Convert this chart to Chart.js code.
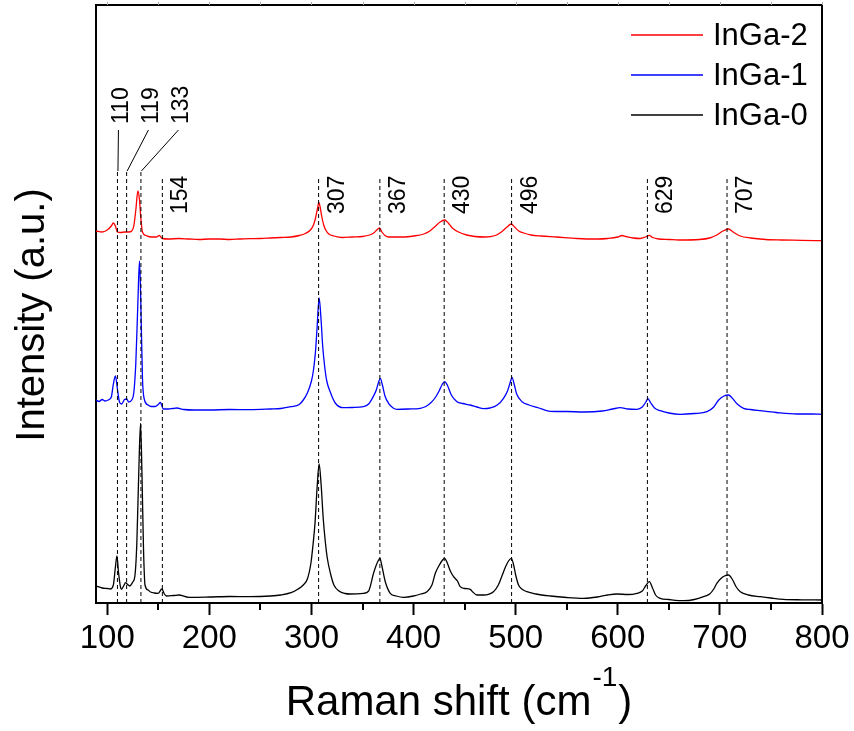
<!DOCTYPE html>
<html>
<head>
<meta charset="utf-8">
<title>Raman InGa</title>
<script src="https://cdn.jsdelivr.net/npm/chart.js@4.4.1/dist/chart.umd.min.js"></script>
<style>
    body { margin: 0; background: #fff; }
    #wrap { width: 854px; height: 731px; }
</style>
</head>
<body>
<div id="wrap"><canvas id="raman" width="854" height="731"></canvas></div>
<script>
const inga2Points = [
    [89,372],[95,371],[100,373],[104,377],[106,380],[108,377],[110,371],[113,370.5],[117,371],[121,371],
    [124,372],[126,377],[128,393],[130,412],[131.5,404],[133,384],[134.5,371],[138,367.5],[143,366],[148,366],
    [151,367.5],[154,364.5],[160,364],[170,364.5],[180,364],[190,363.5],[200,364],[210,364],[220,363.5],[230,364],
    [240,364.3],[250,364.5],[260,365],[270,365.5],[280,366],[288,367.5],[294,369.5],[299,373],[302,378],[304,385],
    [306,395],[307.2,400.5],[308.5,396],[310,387],[312,378],[314,373],[317,369],[322,367],[330,365.5],[340,366],
    [350,366.5],[357,368],[361,370],[364,373],[366.7,375],[369,371],[372,367.5],[376,366],[380,366],[390,366],
    [400,367],[410,369],[416,372],[421,376.5],[426,381],[430.4,383],[434,380],[438,375],[444,371],[452,368],
    [460,366.5],[470,366],[480,367.5],[486,371],[491,375.5],[495.7,379],[499,376],[503,372],[508,370],[515,368],
    [525,367],[540,366],[560,364.5],[580,364],[590,364.5],[600,366],[604,367.5],[608,366.5],[615,365],[622,364.5],
    [627,366],[630.8,367.7],[634,365.5],[640,364],[650,363.5],[660,363],[680,363.5],[690,365],[697,368],[703,372],
    [708.5,374],[713,371],[720,367],[730,365],[745,363.5],[760,363],[780,362.7],[800,362.3]
];

const inga1Points = [
    [89,203],[92,201.5],[95,203.5],[98,202],[101,203],[104,206],[106,219],[108,227],[110,214],[112,201],
    [114,199],[117,203.5],[119,204],[121,201],[124,203],[126,210],[128,240],[130,300],[131.6,342],[133,295],
    [134.5,225],[136,205],[140,198],[143,196.5],[147,196.5],[150,198.5],[152,200.5],[155,194],[160,194],[164,194.5],
    [168,195],[175,193.5],[185,193],[200,193],[220,193.5],[240,193.3],[260,194],[270,194.5],[280,196.3],[288,198.5],
    [292,203],[296,210],[300,222],[302,233],[304,252],[305.5,275],[307.5,305],[309.5,282],[311,257],[313,236],
    [315,222],[318.4,211],[323.3,200],[331.4,195.3],[340,195.5],[351,196.3],[356,199],[360.8,207],[363.5,213],[365.5,220],
    [367.4,224.7],[369.5,218],[372,207],[375.5,199.7],[380,195],[383.7,193.7],[395,194],[406.6,194.7],[412,196.5],[416.4,199.7],
    [421,205],[425,212],[428,218.5],[430.4,221.3],[433,218],[437,208],[442.5,201.3],[448,199.5],[455.5,198],[462,196],
    [468.6,194.3],[475,195],[482,198],[488.1,204.7],[492,212],[494.5,220],[496.4,225.7],[498.5,219],[501,209],[506.2,201.3],
    [513,198],[520.9,195.7],[533.9,191.7],[550,191.5],[566.5,191],[585,192],[595,194],[602.4,195.3],[610,194],[618.8,193.7],
    [624,196],[627.5,201],[629.6,204.3],[632,200.5],[636,195],[641.6,192.3],[650,190],[661.2,188.7],[675,189.5],[687.4,191.3],
    [694,196],[698.8,203],[704,207],[708.5,208],[712,205],[717,199],[723.2,194.7],[730,193.5],[739.6,192.3],[755,190.5],
    [775.5,189],[790,189],[800,188.7]
];

const inga0Points = [
    [89,17],[95,15],[100,14.5],[103,14],[106,18],[108,36],[109.5,47],[111,31],[113,16],[114,13.7],
    [116,17],[118,20.3],[120,18.5],[122,17],[125,21],[127,26.3],[129,60],[131,135],[132.6,179.7],[134,130],
    [135.5,55],[137,18],[140,13],[142,11.3],[146,10],[150,9.7],[153.5,14],[156,9],[158,7],[165,7.5],
    [170,8],[180,5.7],[200,6],[220,6.5],[240,6.3],[260,7],[270,8],[280,10.3],[287,14],[292,18],
    [296,24],[299.5,40],[301.5,58],[303.5,80],[305.5,115],[307.5,139],[309.5,118],[311.5,85],[313.5,62],[315.5,45],
    [318.5,30],[322,18],[327,12],[333,9.5],[338,9],[351,9.7],[356,12],[360.8,29.7],[363.5,38],[365.5,42.5],
    [367.1,44.7],[369,37],[372.3,21.3],[377.2,9.7],[383,7],[390.2,5.7],[400,7],[407,9],[413.1,11.3],[418,18],
    [421.3,29.7],[425,37.5],[428,42.5],[430.4,44.7],[433,40],[436,32],[439.2,26.3],[443,22],[445.7,16.3],[450,14.5],
    [455.5,13.7],[458,11],[462.1,8],[468.6,8],[478.3,11.3],[483,18],[486.9,28],[490,36],[493,42],[495.8,44.7],
    [498,38],[500,28],[502.8,18],[506,14],[511,11.3],[520,9],[533.9,7],[550,5.5],[566.5,4.7],[580,6],
    [590,8],[599.2,9],[610,8.5],[618.8,9.7],[624,12],[627.5,17.5],[630.9,21.3],[634,15],[637,8],[641.6,4.7],
    [650,3.5],[664.4,2.3],[675,3.5],[684,6.3],[690,9],[694,14],[697,19.7],[701,24.5],[704.5,27],[708.5,28],
    [712,24],[716,16],[720,11.3],[728,8],[739.6,6.3],[750,5],[762.4,3.7],[780,3.2],[800,3]
];

// Posiciones de los picos marcados
const peaksLeft = [110, 119, 133];
const peaksMain = [154, 307, 367, 430, 496, 629, 707];

// Ticks del eje X
const majorTicks = [100, 200, 300, 400, 500, 600, 700, 800];
const minorTicks = [150, 250, 350, 450, 550, 650, 750];

const seriesNames = ['InGa-2', 'InGa-1', 'InGa-0'];
const seriesColors = ['#ff0000', '#0000ff', '#000000'];

const FONT = "'Liberation Sans', Arial, sans-serif";

function toXY(points) {
    return points.map(p => ({ x: p[0], y: p[1] }));
}

// Líneas discontinuas verticales de cada pico
function dashedLine(v, top) {
    return {
        data: [{ x: v, y: 0 }, { x: v, y: top }],
        borderColor: '#000',
        borderWidth: 1,
        borderDash: [4, 3],
        pointRadius: 0,
        fill: false,
        tension: 0
    };
}

const curveSets = [inga2Points, inga1Points, inga0Points].map((pts, i) => ({
    label: seriesNames[i],
    data: toXY(pts),
    borderColor: seriesColors[i],
    borderWidth: 1.3,
    pointRadius: 0,
    fill: false,
    cubicInterpolationMode: 'monotone'
}));

const dashSets = peaksLeft.map(v => dashedLine(v, 431)).concat(peaksMain.map(v => dashedLine(v, 426)));

// Marco, ticks menores, etiquetas de picos, leyenda y títulos
const decorPlugin = {
    id: 'decor',
    afterDraw(chart) {
        const { ctx, chartArea: a, scales: { x } } = chart;
        ctx.save();

        // marco superior y derecho
        ctx.strokeStyle = '#000';
        ctx.lineWidth = 2;
        ctx.beginPath();
        ctx.moveTo(a.left - 1, a.top);
        ctx.lineTo(a.right, a.top);
        ctx.lineTo(a.right, a.bottom + 1);
        ctx.stroke();

        // ticks menores
        ctx.beginPath();
        minorTicks.forEach(v => {
            const px = Math.round(x.getPixelForValue(v));
            ctx.moveTo(px, a.bottom);
            ctx.lineTo(px, a.bottom + 7);
        });
        ctx.stroke();

        // marcas tenues del eje superior
        ctx.strokeStyle = '#aaa';
        ctx.lineWidth = 1;
        ctx.beginPath();
        majorTicks.concat(minorTicks).forEach(v => {
            const px = Math.round(x.getPixelForValue(v)) + 0.5;
            ctx.moveTo(px, a.top - 3);
            ctx.lineTo(px, a.top);
        });
        ctx.stroke();

        // etiquetas de picos principales (texto vertical)
        ctx.fillStyle = '#000';
        ctx.font = '23px ' + FONT;
        ctx.textAlign = 'left';
        ctx.textBaseline = 'alphabetic';
        peaksMain.forEach(v => {
            const px = x.getPixelForValue(v);
            ctx.save();
            ctx.translate(px + 25, 214);
            ctx.rotate(-Math.PI / 2);
            ctx.fillText(String(v), 0, 0);
            ctx.restore();
        });

        // etiquetas 110, 119, 133 con líneas guía
        ctx.strokeStyle = '#000';
        ctx.lineWidth = 1;
        const firstX = x.getPixelForValue(peaksLeft[0]) + 11;
        peaksLeft.forEach((v, i) => {
            const bx = firstX + i * 30;
            ctx.save();
            ctx.translate(bx, 124);
            ctx.rotate(-Math.PI / 2);
            ctx.fillText(String(v), 0, 0);
            ctx.restore();
            ctx.beginPath();
            ctx.moveTo(bx - 10, 130);
            ctx.lineTo(x.getPixelForValue(v) + 0.5, 171);
            ctx.stroke();
        });

        // leyenda
        ctx.font = '31px ' + FONT;
        ctx.textBaseline = 'middle';
        seriesNames.forEach((name, i) => {
            const ly = 35 + i * 40;
            ctx.strokeStyle = seriesColors[i];
            ctx.lineWidth = 1.3;
            ctx.beginPath();
            ctx.moveTo(631, ly);
            ctx.lineTo(703, ly);
            ctx.stroke();
            ctx.fillStyle = '#000';
            ctx.fillText(name, 713, ly + 1);
        });

        // título eje Y
        ctx.font = '40px ' + FONT;
        ctx.textAlign = 'center';
        ctx.textBaseline = 'alphabetic';
        ctx.save();
        ctx.translate(44, 315);
        ctx.rotate(-Math.PI / 2);
        ctx.fillText('Intensity (a.u.)', 0, 0);
        ctx.restore();

        // título eje X con superíndice
        const main = 'Raman shift (cm';
        const sup = '-1';
        const close = ')';
        ctx.font = '42px ' + FONT;
        const wMain = ctx.measureText(main).width;
        const wClose = ctx.measureText(close).width;
        ctx.font = '28px ' + FONT;
        const wSup = ctx.measureText(sup).width;
        const total = wMain + wSup + wClose + 2;
        let tx = (a.left + a.right) / 2 - total / 2;
        ctx.textAlign = 'left';
        ctx.font = '42px ' + FONT;
        ctx.fillText(main, tx, 715);
        tx += wMain + 1;
        ctx.font = '28px ' + FONT;
        ctx.fillText(sup, tx, 686);
        tx += wSup + 1;
        ctx.font = '42px ' + FONT;
        ctx.fillText(close, tx, 715);

        ctx.restore();
    }
};

new Chart(document.getElementById('raman'), {
    type: 'line',
    data: { datasets: dashSets.concat(curveSets) },
    options: {
        responsive: false,
        animation: false,
        parsing: true,
        layout: { padding: { top: 5, right: 32, left: 0, bottom: 0 } },
        plugins: {
            legend: { display: false },
            title: { display: false },
            tooltip: { enabled: false }
        },
        scales: {
            x: {
                type: 'linear',
                min: 89,
                max: 800,
                afterBuildTicks: scale => { scale.ticks = majorTicks.map(v => ({ value: v })); },
                afterFit: scale => { scale.height = 128; },
                ticks: {
                    color: '#000',
                    font: { family: FONT, size: 33 },
                    padding: 4,
                    maxRotation: 0,
                    autoSkip: false
                },
                grid: {
                    display: true,
                    drawOnChartArea: false,
                    drawTicks: true,
                    tickLength: 12,
                    tickWidth: 2,
                    tickColor: '#000'
                },
                border: { display: true, color: '#000', width: 2 }
            },
            y: {
                type: 'linear',
                min: 0,
                max: 598,
                afterFit: scale => { scale.width = 96; },
                ticks: { display: false },
                grid: { display: false },
                border: { display: true, color: '#000', width: 2 }
            }
        }
    },
    plugins: [decorPlugin]
});
</script>
</body>
</html>
